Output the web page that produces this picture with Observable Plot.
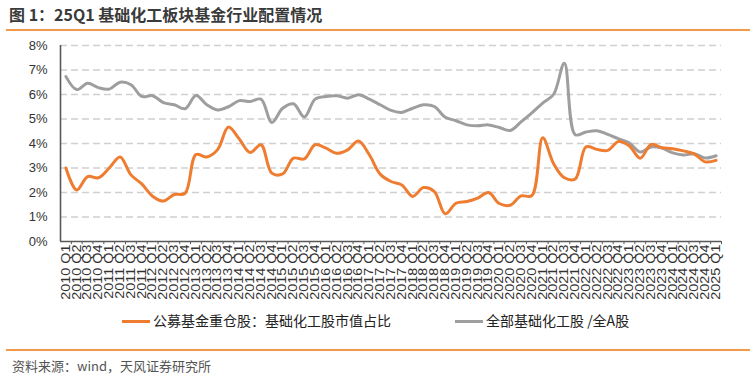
<!DOCTYPE html>
<html>
<head>
<meta charset="utf-8">
<script src="https://cdn.jsdelivr.net/npm/d3@7"></script>
<script src="https://cdn.jsdelivr.net/npm/@observablehq/plot@0.6"></script>
<style>
  html, body { margin: 0; padding: 0; background: #fff; }
  #wrap { position: relative; width: 755px; height: 379px; overflow: hidden; font-family: "Noto Sans CJK SC", "Noto Sans", sans-serif; }
  #title { position: absolute; left: 9px; top: 3px; font-size: 16px; line-height: 22px; font-weight: 700; color: #3a3a3a; white-space: nowrap; }
  .rule { position: absolute; left: 6px; width: 744px; height: 2px; background: #F39A4C; }
  #chart { position: absolute; left: 0; top: 30px; }
  #legend { position: absolute; top: 309px; left: 0; width: 755px; height: 22px; font-size: 14px; line-height: 22px; color: #222; }
  .item { position: absolute; top: 0; white-space: nowrap; }
  .sw { display: inline-block; width: 28px; height: 3px; vertical-align: middle; margin-right: 3px; position: relative; top: -1px; }
  #source { position: absolute; left: 12px; top: 356px; font-size: 13px; line-height: 20px; color: #555; white-space: nowrap; }
</style>
</head>
<body>
<div id="wrap">
  <div id="title">图 1：25Q1 基础化工板块基金行业配置情况</div>
  <div class="rule" style="top:29px"></div>
  <div id="chart"></div>
  <div id="legend"></div>
  <div class="rule" style="top:349px"></div>
  <div id="source">资料来源：wind，天风证券研究所</div>
</div>
<script>
const quarters = [
  "2010 Q1","2010 Q2","2010 Q3","2010 Q4","2011 Q1","2011 Q2","2011 Q3","2011 Q4",
  "2012 Q1","2012 Q2","2012 Q3","2012 Q4","2013 Q1","2013 Q2","2013 Q3","2013 Q4",
  "2014 Q1","2014 Q2","2014 Q3","2014 Q4","2015 Q1","2015 Q2","2015 Q3","2015 Q4",
  "2016 Q1","2016 Q2","2016 Q3","2016 Q4","2017 Q1","2017 Q2","2017 Q3","2017 Q4",
  "2018 Q1","2018 Q2","2018 Q3","2018 Q4","2019 Q1","2019 Q2","2019 Q3","2019 Q4",
  "2020 Q1","2020 Q2","2020 Q3","2020 Q4","2021 Q1","2021 Q2","2021 Q3","2021 Q4",
  "2022 Q1","2022 Q2","2022 Q3","2022 Q4","2023 Q1","2023 Q2","2023 Q3","2023 Q4",
  "2024 Q1","2024 Q2","2024 Q3","2024 Q4","2025 Q1"
];
// 公募基金重仓股：基础化工股市值占比 (%)
const fundShare = [
  3.00,2.10,2.65,2.60,3.00,3.45,2.72,2.35,
  1.85,1.65,1.92,1.97,3.55,3.45,3.75,4.67,
  4.18,3.63,3.95,2.79,2.76,3.40,3.37,3.95,
  3.81,3.60,3.74,4.10,3.54,2.75,2.45,2.31,
  1.84,2.20,2.04,1.13,1.56,1.63,1.77,2.00,
  1.55,1.48,1.86,1.87,4.23,3.18,2.60,2.55,
  3.86,3.76,3.72,4.08,3.90,3.40,3.96,3.83,
  3.79,3.70,3.57,3.25,3.31
];
// 全部基础化工股 /全A股 (%)
const allShare = [
  6.73,6.20,6.46,6.28,6.22,6.50,6.40,5.92,
  5.95,5.67,5.58,5.42,5.96,5.58,5.37,5.50,
  5.75,5.71,5.81,4.86,5.44,5.62,5.08,5.81,
  5.92,5.95,5.85,5.99,5.81,5.58,5.35,5.27,
  5.44,5.58,5.51,5.07,4.93,4.76,4.72,4.76,
  4.65,4.53,4.88,5.25,5.65,6.00,7.28,4.36,
  4.47,4.52,4.37,4.19,4.02,3.65,3.86,3.81,
  3.62,3.53,3.58,3.41,3.50
];
const yTicks = [0, 1, 2, 3, 4, 5, 6, 7, 8];
const seriesNames = ["公募基金重仓股：基础化工股市值占比", "全部基础化工股 /全A股"];
const seriesColors = ["#EE7D31", "#9E9E9E"];

const fundRows = quarters.map((q, i) => ({q, v: fundShare[i]}));
const allRows = quarters.map((q, i) => ({q, v: allShare[i]}));

const W = 755, H = 280, ML = 60, MR = 34, MT = 15, MB = 69;
const step = (W - ML - MR) / quarters.length;

const chart = Plot.plot({
  width: W, height: H,
  marginLeft: ML, marginRight: MR, marginTop: MT, marginBottom: MB,
  style: {fontFamily: "'Liberation Sans', Arial, sans-serif", fontSize: "13px", color: "#333", background: "transparent", overflow: "visible"},
  x: {type: "point", domain: quarters, padding: 0.5, label: null},
  y: {domain: [0, 8], label: null},
  marks: [
    Plot.gridY(yTicks.slice(1), {stroke: "#d0d0d0", strokeOpacity: 1, strokeWidth: 1.4, strokeDasharray: "7,4"}),
    Plot.axisY(yTicks, {tickSize: 0, tickPadding: 13, tickFormat: d => d + "%", label: null, fontSize: 13}),
    Plot.axisX({tickSize: 0, tickPadding: 3, tickRotate: -90, label: null, fontSize: 12}),
    Plot.ruleX(quarters, {x: d => d, y1: 0, y2: -0.13, dx: step / 2, stroke: "#595959", strokeWidth: 1}),
    Plot.ruleX([quarters[0]], {x: d => d, y1: 0, y2: 8, dx: -step / 2, stroke: "#595959", strokeWidth: 1.6}),
    Plot.ruleY([0], {stroke: "#595959", strokeWidth: 1.6}),
    Plot.line(allRows, {x: "q", y: "v", curve: "catmull-rom", stroke: seriesColors[1], strokeWidth: 3}),
    Plot.line(fundRows, {x: "q", y: "v", curve: "catmull-rom", stroke: seriesColors[0], strokeWidth: 3})
  ]
});
d3.select(chart).selectAll('g[aria-label="x-axis tick label"] text')
  .attr("transform", function() { return (this.getAttribute("transform") || "") + " scale(1.2,1)"; });
document.getElementById("chart").appendChild(chart);

const legend = document.getElementById("legend");
const lefts = [122, 455];
seriesNames.forEach((name, i) => {
  const it = document.createElement("div");
  it.className = "item";
  it.style.left = lefts[i] + "px";
  it.innerHTML = `<span class="sw" style="background:${seriesColors[i]}"></span>${name}`;
  legend.appendChild(it);
});
</script>
</body>
</html>
